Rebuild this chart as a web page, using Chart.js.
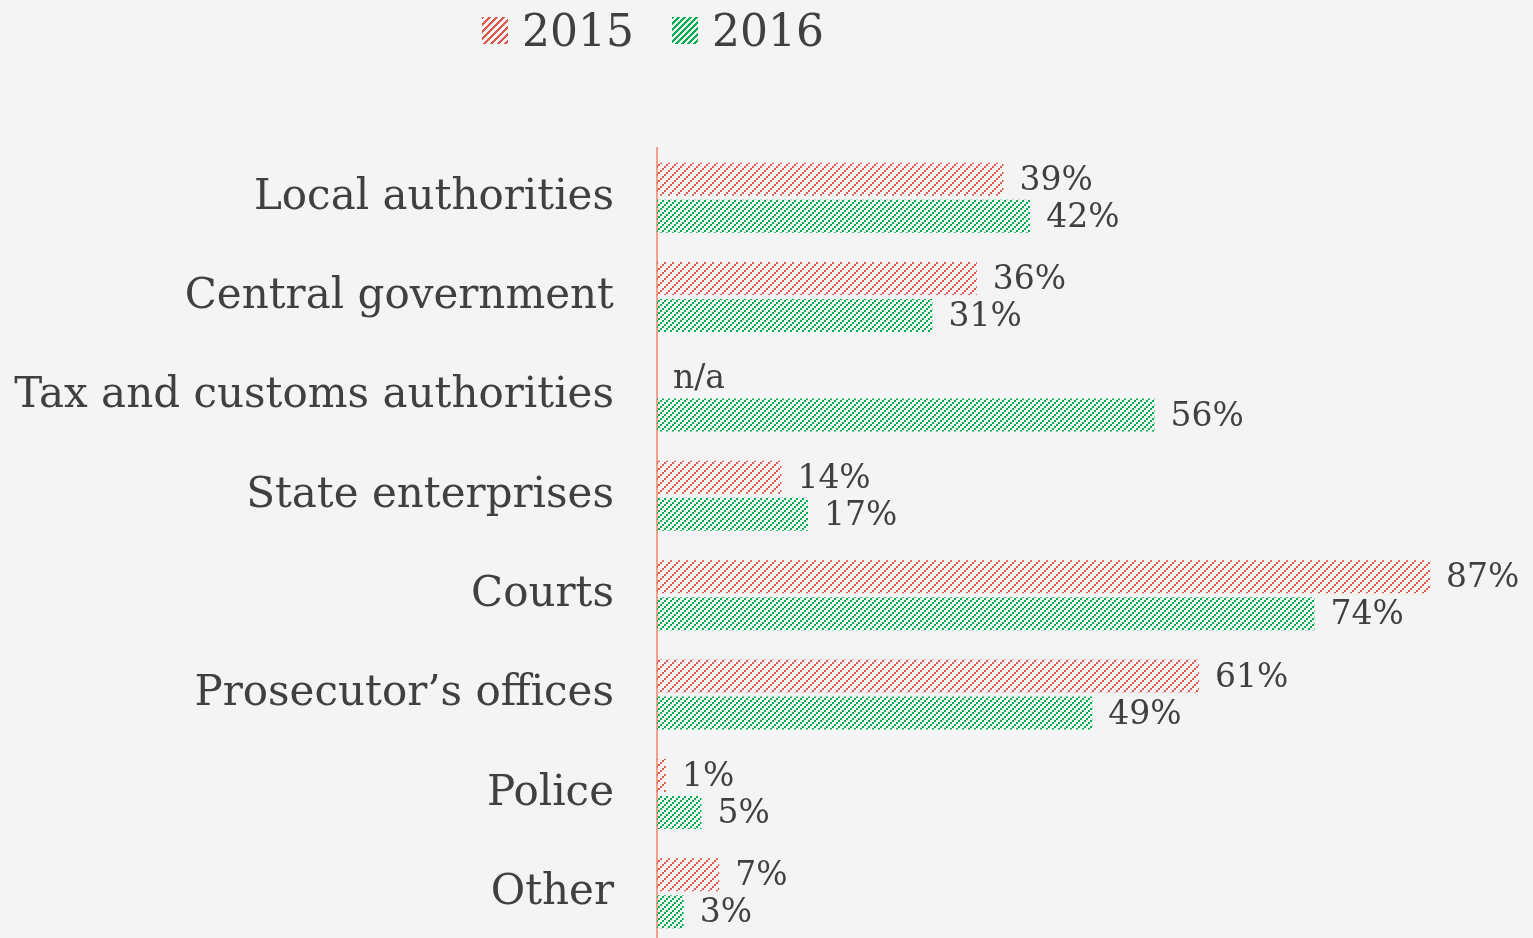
<!DOCTYPE html>
<html>
<head>
<meta charset="utf-8">
<script src="https://cdn.jsdelivr.net/npm/chart.js@4.4.1/dist/chart.umd.min.js"></script>
<style>
    body { margin: 0; background: #f4f4f4; overflow: hidden; }
    #wrap { position: relative; width: 1533px; height: 943px; }
    #legend { position: absolute; top: 0; left: 482px; height: 60px; display: flex; align-items: center;
        font-family: 'DejaVu Serif', serif; font-size: 44px; color: #404040; z-index: 2; }
    .item { display: flex; align-items: center; margin-right: 38px; }
    .swatch { width: 26px; height: 27px; margin-right: 14px; }
</style>
</head>
<body>
<div id="wrap">
    <div id="legend"></div>
    <canvas id="chart"></canvas>
</div>
<script>
const categories = ['Local authorities', 'Central government', 'Tax and customs authorities', 'State enterprises',
    'Courts', 'Prosecutor\u2019s offices', 'Police', 'Other'];
const seriesNames = ['2015', '2016'];
const values2015 = [39, 36, null, 14, 87, 61, 1, 7];
const values2016 = [42, 31, 56, 17, 74, 49, 5, 3];

const RED = '#e0574b';
const GREEN = '#00b050';
const TEXT = '#404040';
const FONT = "'DejaVu Serif', serif";

// dotted diagonal hatch: 2px blocks stepping up to the right
function hatch(color, size) {
    const c = document.createElement('canvas');
    c.width = size; c.height = size;
    const g = c.getContext('2d');
    g.fillStyle = color;
    for (let i = 0; i < size; i += 2) {
        g.fillRect(i, size - 2 - i, 2, 2);
    }
    return g.createPattern(c, 'repeat');
}

// legend as html
const legend = document.getElementById('legend');
[[seriesNames[0], RED, 7], [seriesNames[1], GREEN, 6]].forEach(([name, col, step]) => {
    const item = document.createElement('div');
    item.className = 'item';
    item.innerHTML = `<div class="swatch" style="background: repeating-linear-gradient(135deg, ${col} 0 1.5px, transparent 1.5px ${step * 0.707}px)"></div><span>${name}</span>`;
    legend.appendChild(item);
});

const valueLabels = {
    id: 'valueLabels',
    afterDatasetsDraw(chart) {
        const ctx = chart.ctx;
        ctx.save();
        ctx.font = '33px ' + FONT;
        ctx.fillStyle = TEXT;
        ctx.textBaseline = 'middle';
        ctx.textAlign = 'left';
        chart.data.datasets.forEach((ds, i) => {
            chart.getDatasetMeta(i).data.forEach((bar, j) => {
                const v = ds.data[j];
                if (v === null) {
                    ctx.fillText('n/a', chart.chartArea.left + 16, bar.y + 1);
                } else {
                    ctx.fillText(v + '%', bar.x + 16, bar.y + 2);
                }
            });
        });
        ctx.restore();
    }
};

new Chart(document.getElementById('chart'), {
    type: 'bar',
    data: {
        labels: categories,
        datasets: [
            { label: seriesNames[0], data: values2015, backgroundColor: hatch(RED, 8) },
            { label: seriesNames[1], data: values2016, backgroundColor: hatch(GREEN, 6) }
        ]
    },
    options: {
        indexAxis: 'y',
        responsive: true,
        maintainAspectRatio: false,
        animation: false,
        categoryPercentage: 0.745,
        barPercentage: 0.89,
        layout: { padding: { top: 148, right: 0, bottom: 0, left: 0 } },
        plugins: { legend: { display: false }, tooltip: { enabled: false } },
        scales: {
            x: { display: false, min: 0, max: 98.6 },
            y: {
                afterFit(scale) {
                    scale.width = 657;
                    scale.paddingTop = 0;
                    scale.paddingBottom = 0;
                },
                grid: { display: false },
                border: { color: '#f4a08a', width: 2 },
                ticks: { padding: 35, color: TEXT, font: { family: FONT, size: 42 } }
            }
        }
    },
    plugins: [valueLabels]
});
</script>
</body>
</html>
